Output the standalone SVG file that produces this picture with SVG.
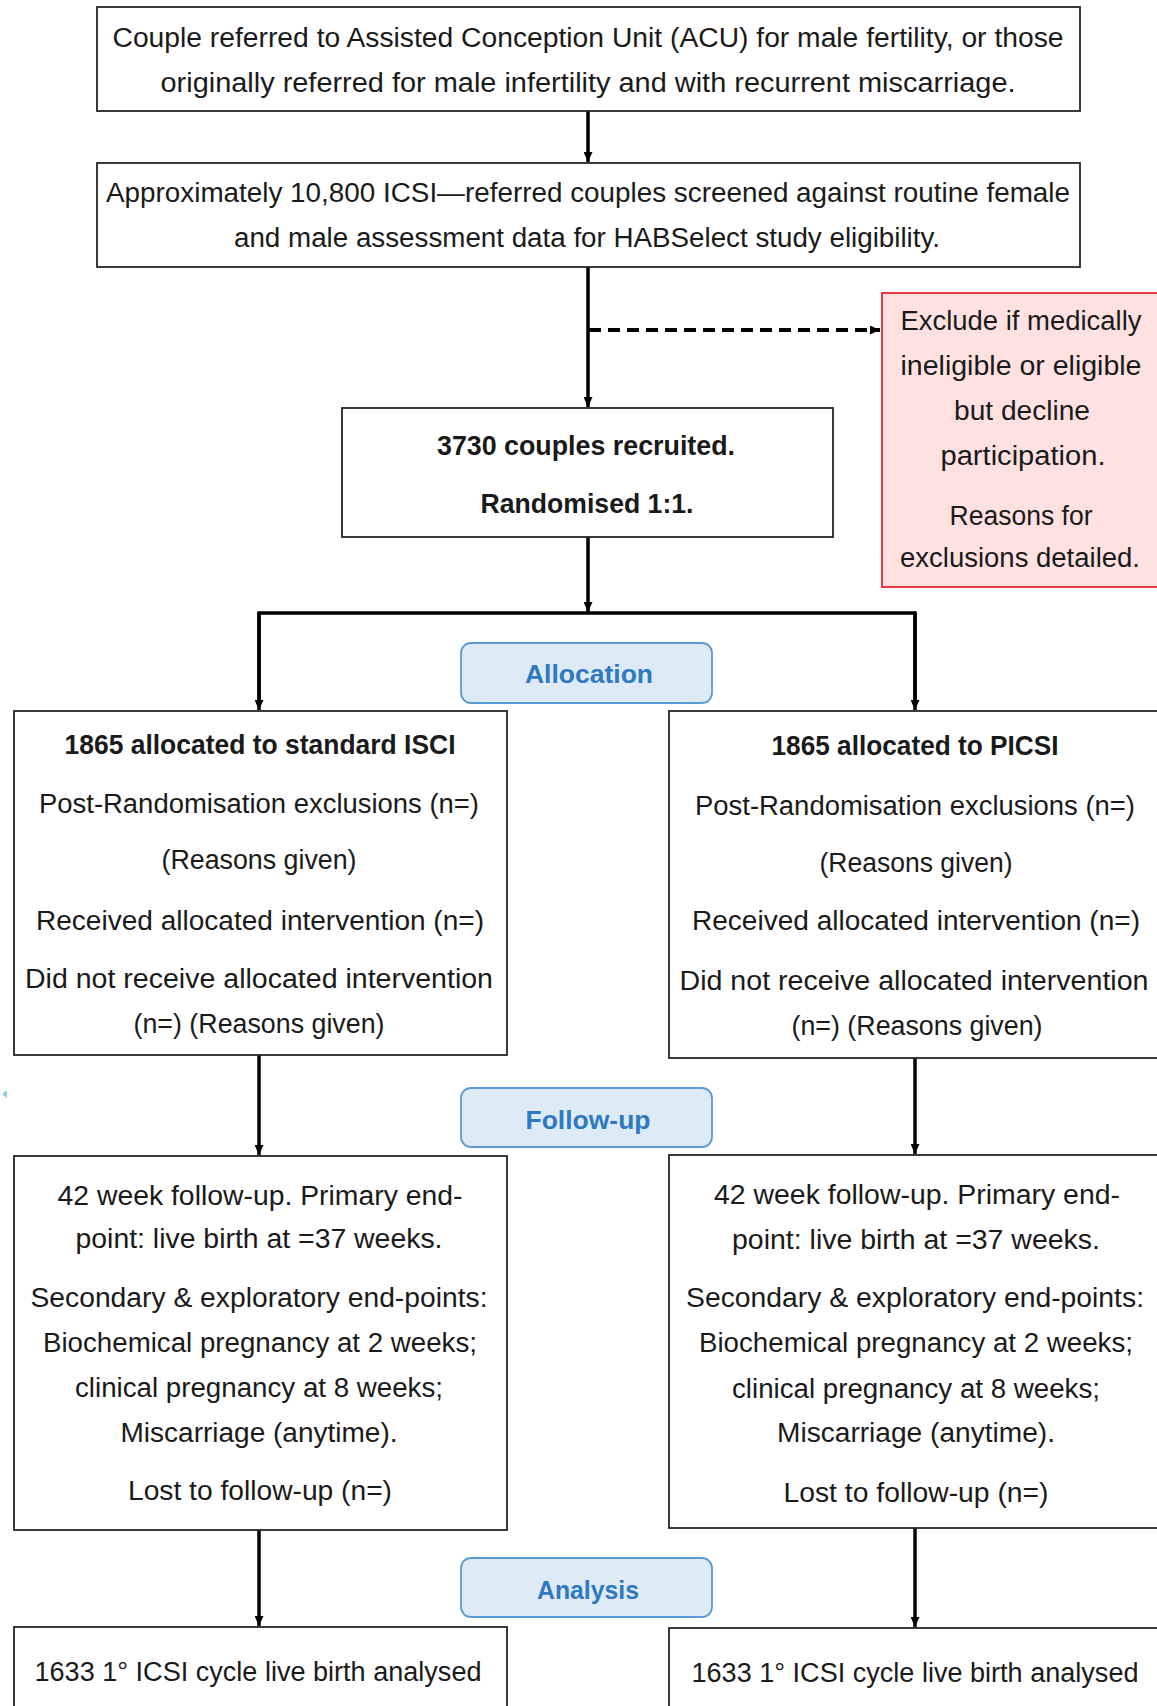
<svg xmlns="http://www.w3.org/2000/svg" width="1157" height="1706" viewBox="0 0 1157 1706">
<defs>
<style>
.box{fill:#fff;stroke:#262626;stroke-width:1.8}
.red{fill:#ffe1e1;stroke:#e8262b;stroke-width:1.8}
.lbl{fill:#deebf7;stroke:#5b9bd5;stroke-width:1.8}
.t{font-family:"Liberation Sans",Arial,sans-serif;font-size:27px;fill:#1a1a1a;text-anchor:middle}
.b{font-weight:bold}
.lt{font-family:"Liberation Sans",Arial,sans-serif;font-size:26px;font-weight:bold;fill:#2e79c1;text-anchor:middle}
.ln{fill:none;stroke:#000;stroke-width:3.5}
.dash{fill:none;stroke:#000;stroke-width:4;stroke-dasharray:12 7}
</style>
<marker id="ah" markerUnits="userSpaceOnUse" markerWidth="10" markerHeight="9" viewBox="0 0 10 9" refX="10" refY="4.5" orient="auto">
<path d="M0,0 L10,4.5 L0,9 z" fill="#000"/>
</marker>
</defs>
<rect width="1157" height="1706" fill="#fff"/>

<g id="connectors">
<line class="ln" x1="588" y1="111" x2="588" y2="162" marker-end="url(#ah)"/>
<line class="ln" x1="588" y1="267" x2="588" y2="407" marker-end="url(#ah)"/>
<line class="dash" x1="589" y1="330" x2="880" y2="330" marker-end="url(#ah)"/>
<line class="ln" x1="588" y1="537" x2="588" y2="612" marker-end="url(#ah)"/>
<polyline class="ln" points="259,700 259,613 915,613 915,700"/>
<line class="ln" x1="259" y1="613" x2="259" y2="710" marker-end="url(#ah)"/>
<line class="ln" x1="915" y1="613" x2="915" y2="710" marker-end="url(#ah)"/>
<line class="ln" x1="259" y1="1055" x2="259" y2="1155" marker-end="url(#ah)"/>
<line class="ln" x1="915" y1="1058" x2="915" y2="1154" marker-end="url(#ah)"/>
<line class="ln" x1="259" y1="1530" x2="259" y2="1626" marker-end="url(#ah)"/>
<line class="ln" x1="915" y1="1528" x2="915" y2="1627" marker-end="url(#ah)"/>
</g>

<g id="n1">
<rect class="box" x="97" y="7" width="983" height="104"/>
<text class="t" x="588" y="47" textLength="951" lengthAdjust="spacingAndGlyphs">Couple referred to Assisted Conception Unit (ACU) for male fertility, or those</text>
<text class="t" x="588" y="92" textLength="855" lengthAdjust="spacingAndGlyphs">originally referred for male infertility and with recurrent miscarriage.</text>
</g>

<g id="n2">
<rect class="box" x="97" y="163" width="983" height="104"/>
<text class="t" x="588" y="202" textLength="964" lengthAdjust="spacingAndGlyphs">Approximately 10,800 ICSI—referred couples screened against routine female</text>
<text class="t" x="587" y="247" textLength="706" lengthAdjust="spacingAndGlyphs">and male assessment data for HABSelect study eligibility.</text>
</g>

<g id="n3">
<rect class="box" x="342" y="408" width="491" height="129"/>
<text class="t b" x="586" y="455" textLength="298" lengthAdjust="spacingAndGlyphs">3730 couples recruited.</text>
<text class="t b" x="587" y="513" textLength="213" lengthAdjust="spacingAndGlyphs">Randomised 1:1.</text>
</g>

<g id="exclude">
<rect class="red" x="882" y="293" width="285" height="294"/>
<text class="t" x="1021" y="330" textLength="241" lengthAdjust="spacingAndGlyphs">Exclude if medically</text>
<text class="t" x="1021" y="375" textLength="241" lengthAdjust="spacingAndGlyphs">ineligible or eligible</text>
<text class="t" x="1022" y="420" textLength="136" lengthAdjust="spacingAndGlyphs">but decline</text>
<text class="t" x="1023" y="465" textLength="165" lengthAdjust="spacingAndGlyphs">participation.</text>
<text class="t" x="1021" y="525" textLength="143" lengthAdjust="spacingAndGlyphs">Reasons for</text>
<text class="t" x="1020" y="567" textLength="240" lengthAdjust="spacingAndGlyphs">exclusions detailed.</text>
</g>

<g id="allocation">
<rect class="lbl" x="461" y="643" width="251" height="60" rx="10"/>
<text class="lt" x="589" y="683" textLength="128" lengthAdjust="spacingAndGlyphs">Allocation</text>
</g>

<g id="left1">
<rect class="box" x="14" y="711" width="493" height="344"/>
<text class="t b" x="260" y="754" textLength="391" lengthAdjust="spacingAndGlyphs">1865 allocated to standard ISCI</text>
<text class="t" x="259" y="813" textLength="440" lengthAdjust="spacingAndGlyphs">Post-Randomisation exclusions (n=)</text>
<text class="t" x="259" y="869" textLength="195" lengthAdjust="spacingAndGlyphs">(Reasons given)</text>
<text class="t" x="260" y="930" textLength="448" lengthAdjust="spacingAndGlyphs">Received allocated intervention (n=)</text>
<text class="t" x="259" y="988" textLength="468" lengthAdjust="spacingAndGlyphs">Did not receive allocated intervention</text>
<text class="t" x="259" y="1033" textLength="251" lengthAdjust="spacingAndGlyphs">(n=) (Reasons given)</text>
</g>

<g id="right1">
<rect class="box" x="669" y="711" width="496" height="347"/>
<text class="t b" x="915" y="755" textLength="287" lengthAdjust="spacingAndGlyphs">1865 allocated to PICSI</text>
<text class="t" x="915" y="815" textLength="440" lengthAdjust="spacingAndGlyphs">Post-Randomisation exclusions (n=)</text>
<text class="t" x="916" y="872" textLength="193" lengthAdjust="spacingAndGlyphs">(Reasons given)</text>
<text class="t" x="916" y="930" textLength="448" lengthAdjust="spacingAndGlyphs">Received allocated intervention (n=)</text>
<text class="t" x="914" y="990" textLength="469" lengthAdjust="spacingAndGlyphs">Did not receive allocated intervention</text>
<text class="t" x="917" y="1035" textLength="251" lengthAdjust="spacingAndGlyphs">(n=) (Reasons given)</text>
</g>

<g id="followup">
<rect class="lbl" x="461" y="1088" width="251" height="59" rx="10"/>
<text class="lt" x="588" y="1129" textLength="125" lengthAdjust="spacingAndGlyphs">Follow-up</text>
</g>

<g id="left2">
<rect class="box" x="14" y="1156" width="493" height="374"/>
<text class="t" x="260" y="1205" textLength="405" lengthAdjust="spacingAndGlyphs">42 week follow-up. Primary end-</text>
<text class="t" x="259" y="1248" textLength="367" lengthAdjust="spacingAndGlyphs">point: live birth at =37 weeks.</text>
<text class="t" x="259" y="1307" textLength="457" lengthAdjust="spacingAndGlyphs">Secondary &amp; exploratory end-points:</text>
<text class="t" x="260" y="1352" textLength="434" lengthAdjust="spacingAndGlyphs">Biochemical pregnancy at 2 weeks;</text>
<text class="t" x="259" y="1397" textLength="368" lengthAdjust="spacingAndGlyphs">clinical pregnancy at 8 weeks;</text>
<text class="t" x="259" y="1442" textLength="277" lengthAdjust="spacingAndGlyphs">Miscarriage (anytime).</text>
<text class="t" x="260" y="1500" textLength="264" lengthAdjust="spacingAndGlyphs">Lost to follow-up (n=)</text>
</g>

<g id="right2">
<rect class="box" x="669" y="1155" width="496" height="373"/>
<text class="t" x="917" y="1204" textLength="406" lengthAdjust="spacingAndGlyphs">42 week follow-up. Primary end-</text>
<text class="t" x="916" y="1249" textLength="368" lengthAdjust="spacingAndGlyphs">point: live birth at =37 weeks.</text>
<text class="t" x="915" y="1307" textLength="458" lengthAdjust="spacingAndGlyphs">Secondary &amp; exploratory end-points:</text>
<text class="t" x="916" y="1352" textLength="434" lengthAdjust="spacingAndGlyphs">Biochemical pregnancy at 2 weeks;</text>
<text class="t" x="916" y="1398" textLength="368" lengthAdjust="spacingAndGlyphs">clinical pregnancy at 8 weeks;</text>
<text class="t" x="916" y="1442" textLength="278" lengthAdjust="spacingAndGlyphs">Miscarriage (anytime).</text>
<text class="t" x="916" y="1502" textLength="265" lengthAdjust="spacingAndGlyphs">Lost to follow-up (n=)</text>
</g>

<g id="analysis">
<rect class="lbl" x="461" y="1558" width="251" height="59" rx="10"/>
<text class="lt" x="588" y="1599" textLength="102" lengthAdjust="spacingAndGlyphs">Analysis</text>
</g>

<g id="left3">
<rect class="box" x="14" y="1627" width="493" height="100"/>
<text class="t" x="258" y="1681" textLength="447" lengthAdjust="spacingAndGlyphs">1633 1° ICSI cycle live birth analysed</text>
</g>

<g id="right3">
<rect class="box" x="669" y="1628" width="496" height="100"/>
<text class="t" x="915" y="1682" textLength="447" lengthAdjust="spacingAndGlyphs">1633 1° ICSI cycle live birth analysed</text>
</g>

<polygon points="2,1094 7,1090 7,1098" fill="#8fcde3"/>
</svg>
